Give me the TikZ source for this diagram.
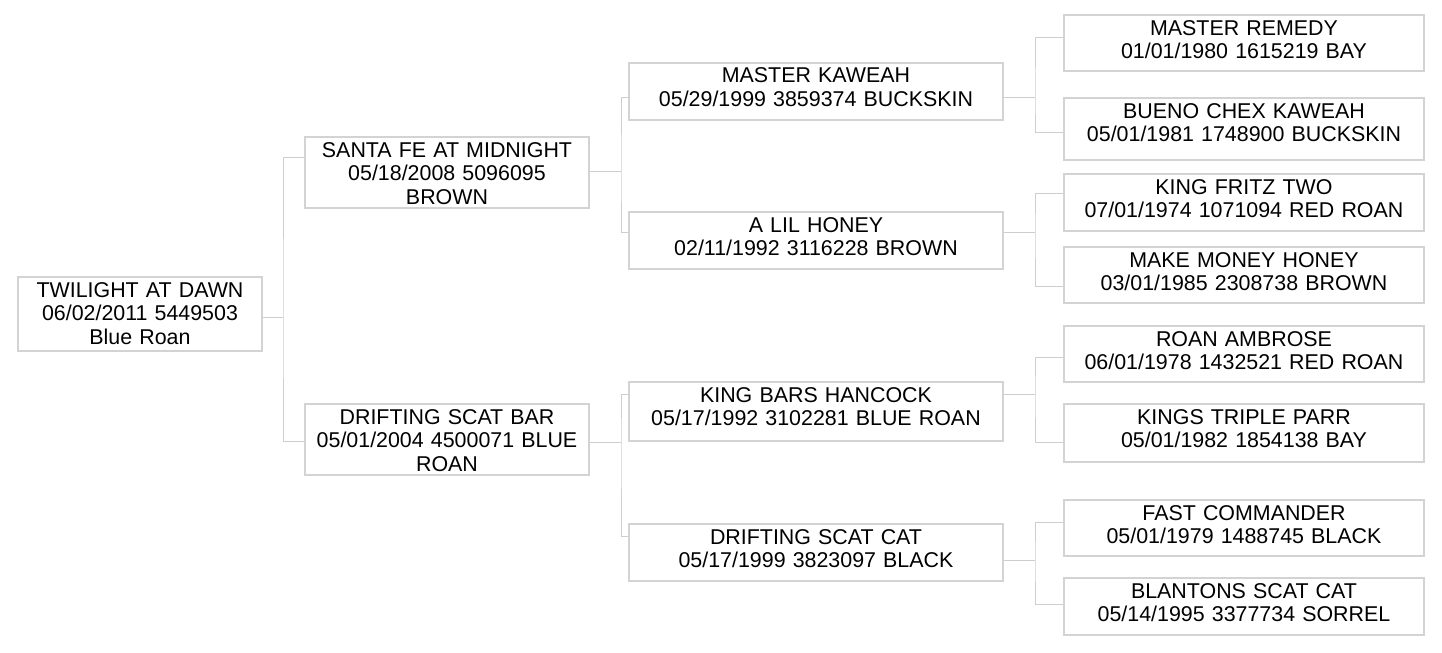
\documentclass[tikz,border=0pt]{standalone}
\usepackage{fontspec}
\setmainfont{Liberation Sans}
\usetikzlibrary{positioning}
\definecolor{BoxGray}{RGB}{211,211,211}
\definecolor{LinkGray}{RGB}{206,206,206}
\newcommand{\tsp}{\hspace*{0.278em}}

\begin{document}
\begin{tikzpicture}[x=0.5pt,y=-0.5pt,
    horse/.style={draw=BoxGray,line width=1pt,inner xsep=0pt,inner ysep=0pt,
      align=center,anchor=north west,text height=10pt,
      font=\fontsize{10.7pt}{11.75pt}\selectfont},
    gen0/.style={horse,text width=122pt},
    gen1/.style={horse,text width=142pt,text depth=25.5pt},
    gen2/.style={horse,text width=187pt},
    gen3/.style={horse,text width=180pt},
    link/.style={draw=LinkGray,line width=0.5pt}]
  \useasboundingbox[fill=white] (0,0) rectangle (1442,653);

  \node[gen0,text depth=27pt] (twilight) at (17,276) {TWILIGHT AT DAWN\\06/02/2011 5449503\tsp\\Blue Roan};

  \node[gen1] (santafe) at (304,136) {SANTA FE AT MIDNIGHT\\05/18/2008 5096095\tsp\\BROWN};
  \node[gen1] (scatbar) at (304,403) {DRIFTING SCAT BAR\\05/01/2004 4500071 BLUE\tsp\\ROAN};

  \node[gen2,text depth=18.5pt] (kaweah) at (628,62) {MASTER KAWEAH\\05/29/1999 3859374 BUCKSKIN};
  \node[gen2,text depth=18.5pt] (lilhoney) at (628,211) {A LIL HONEY\\02/11/1992 3116228 BROWN};
  \node[gen2,text depth=19.5pt] (hancock) at (628,381) {KING BARS HANCOCK\\05/17/1992 3102281 BLUE ROAN};
  \node[gen2,text depth=18.5pt] (scatcat) at (628,523) {DRIFTING SCAT CAT\\05/17/1999 3823097 BLACK};

  \node[gen3,text depth=18pt] (remedy) at (1063,14) {MASTER REMEDY\\01/01/1980 1615219 BAY};
  \node[gen3,text depth=21pt] (bueno) at (1063,97) {BUENO CHEX KAWEAH\\05/01/1981 1748900 BUCKSKIN};
  \node[gen3,text depth=18.5pt] (fritz) at (1063,173) {KING FRITZ TWO\\07/01/1974 1071094 RED ROAN};
  \node[gen3,text depth=18pt] (money) at (1063,246) {MAKE MONEY HONEY\\03/01/1985 2308738 BROWN};
  \node[gen3,text depth=18pt] (ambrose) at (1063,325) {ROAN AMBROSE\\06/01/1978 1432521 RED ROAN};
  \node[gen3,text depth=19pt] (parr) at (1063,403) {KINGS TRIPLE PARR\\05/01/1982 1854138 BAY};
  \node[gen3,text depth=18pt] (commander) at (1063,499) {FAST COMMANDER\\05/01/1979 1488745 BLACK};
  \node[gen3,text depth=18.5pt] (blantons) at (1063,577) {BLANTONS SCAT CAT\\05/14/1995 3377734 SORREL};

  \coordinate (j0) at (283,317);
  \coordinate (j1) at (621,171);
  \coordinate (j2) at (621,442);
  \coordinate (j3) at (1035,97);
  \coordinate (j4) at (1035,232);
  \coordinate (j5) at (1035,394);
  \coordinate (j6) at (1035,560);

  \draw[link] (twilight.east |- j0) -- (j0);
  \draw[link] ([yshift=-10.5pt]santafe.north west) -| (j0) |- ([yshift=-19pt]scatbar.north west);

  \draw[link] (santafe.east |- j1) -- (j1);
  \draw[link] ([yshift=-17.5pt]kaweah.north west) -| (j1) |- ([yshift=-10.5pt]lilhoney.north west);
  \draw[link] (scatbar.east |- j2) -- (j2);
  \draw[link] ([yshift=-6.5pt]hancock.north west) -| (j2) |- ([yshift=-6.5pt]scatcat.north west);

  \draw[link] (kaweah.east |- j3) -- (j3);
  \draw[link] ([yshift=-11.5pt]remedy.north west) -| (j3) |- ([yshift=-17.5pt]bueno.north west);
  \draw[link] (lilhoney.east |- j4) -- (j4);
  \draw[link] ([yshift=-10pt]fritz.north west) -| (j4) |- ([yshift=-20pt]money.north west);
  \draw[link] (hancock.east |- j5) -- (j5);
  \draw[link] ([yshift=-16pt]ambrose.north west) -| (j5) |- ([yshift=-19.5pt]parr.north west);
  \draw[link] (scatcat.east |- j6) -- (j6);
  \draw[link] ([yshift=-11.5pt]commander.north west) -| (j6) |- ([yshift=-13.5pt]blantons.north west);
\end{tikzpicture}
\end{document}
